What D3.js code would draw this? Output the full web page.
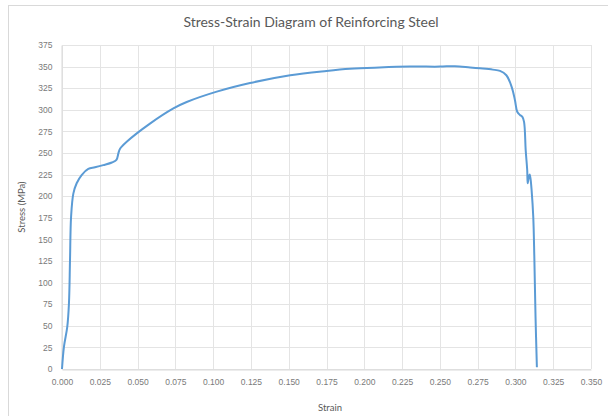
<!DOCTYPE html>
<html>
<head>
<meta charset="utf-8">
<script src="https://cdn.jsdelivr.net/npm/d3@7/dist/d3.min.js"></script>
<style>
  html, body { margin: 0; padding: 0; background: #fff; }
  svg { display: block; font-family: Lato, "Open Sans", "Liberation Sans", sans-serif; }
</style>
</head>
<body>
<svg id="chart" width="608" height="416"></svg>
<script>
// Measured stress-strain curve of a reinforcing bar tension test
const strain = [
  0.0000, 0.0013, 0.0035, 0.0046, 0.0053, 0.0060, 0.0075, 0.0097, 0.0130, 0.0174,
  0.0218, 0.0273, 0.0330, 0.0360, 0.0373, 0.0384, 0.0428, 0.0582, 0.0737, 0.0825,
  0.1024, 0.1244, 0.1510, 0.1750, 0.1905, 0.2100, 0.2300, 0.2500, 0.2600, 0.2700,
  0.2766, 0.2850, 0.2898, 0.2940, 0.2975, 0.2997, 0.3012, 0.3030, 0.3045, 0.3057,
  0.3068, 0.3078, 0.3081, 0.3088, 0.3094, 0.3100, 0.3107, 0.3118, 0.3125, 0.3133,
  0.3142
];
const stress = [
  0.0, 25.8, 49.0, 76.0, 126.0, 176.0, 203.0, 215.0, 224.5, 231.5,
  233.4, 236.0, 239.0, 242.0, 249.6, 255.0, 263.0, 284.0, 301.6, 309.0,
  321.0, 331.0, 340.0, 345.0, 347.5, 349.0, 350.0, 350.0, 350.5, 349.0,
  348.0, 346.5, 345.0, 340.0, 326.6, 311.0, 297.8, 294.0, 292.0, 286.0,
  253.0, 230.0, 215.0, 222.0, 225.0, 220.0, 207.0, 176.0, 130.0, 60.5,
  2.0
];
const xTicks = [0, 0.025, 0.05, 0.075, 0.1, 0.125, 0.15, 0.175, 0.2, 0.225, 0.25, 0.275, 0.3, 0.325, 0.35];
const yTicks = [0, 25, 50, 75, 100, 125, 150, 175, 200, 225, 250, 275, 300, 325, 350, 375];

const titleText = "Stress-Strain Diagram of Reinforcing Steel";
const xTitle = "Strain";
const yTitle = "Stress (MPa)";

const svg = d3.select("#chart");
const plot = { left: 62, right: 591, top: 45, bottom: 369 };

const x = d3.scaleLinear().domain([0, 0.35]).range([plot.left, plot.right]);
const y = d3.scaleLinear().domain([0, 375]).range([plot.bottom, plot.top]);

// chart frame
svg.append("rect")
  .attr("x", 8.5).attr("y", 5.5)
  .attr("width", 620).attr("height", 430)
  .attr("fill", "#fff").attr("stroke", "#d9d9d9").attr("stroke-width", 1);

// gridlines
const grid = svg.append("g").attr("stroke", "#e4e4e4").attr("stroke-width", 1);
grid.selectAll("line.h").data(yTicks).join("line")
  .attr("x1", plot.left).attr("x2", plot.right)
  .attr("y1", d => Math.round(y(d)) + 0.5).attr("y2", d => Math.round(y(d)) + 0.5);
grid.selectAll("line.v").data(xTicks).join("line")
  .attr("y1", plot.top).attr("y2", plot.bottom)
  .attr("x1", d => Math.round(x(d)) + 0.5).attr("x2", d => Math.round(x(d)) + 0.5);

// axes
const xAxis = svg.append("g")
  .attr("transform", `translate(0,${plot.bottom + 0.5})`)
  .call(d3.axisBottom(x).tickValues(xTicks).tickFormat(d3.format(".3f")).tickSize(0).tickPadding(9));
const yAxis = svg.append("g")
  .attr("transform", `translate(${plot.left - 0.5},0)`)
  .call(d3.axisLeft(y).tickValues(yTicks).tickFormat(d3.format("d")).tickSize(0).tickPadding(9));
[xAxis, yAxis].forEach(a => {
  a.select(".domain").attr("stroke", "#d9d9d9");
  a.selectAll("text").attr("fill", "#7a7a7a").style("font-size", "8.5px");
});

// stress-strain curve
const curve = d3.line()
  .x((d, i) => x(strain[i]))
  .y(d => y(d))
  .curve(d3.curveCatmullRom.alpha(0.5));
svg.append("path")
  .datum(stress)
  .attr("fill", "none")
  .attr("stroke", "#5b9bd5")
  .attr("stroke-width", 2)
  .attr("stroke-linejoin", "round")
  .attr("d", curve);

// titles
svg.append("text")
  .attr("x", 311).attr("y", 27)
  .attr("text-anchor", "middle")
  .attr("fill", "#595959")
  .style("font-size", "14px")
  .text(titleText);

svg.append("text")
  .attr("x", 330).attr("y", 411)
  .attr("text-anchor", "middle")
  .attr("fill", "#595959")
  .style("font-size", "9.5px")
  .text(xTitle);

svg.append("text")
  .attr("transform", "translate(25,207) rotate(-90)")
  .attr("text-anchor", "middle")
  .attr("fill", "#595959")
  .style("font-size", "9.5px")
  .text(yTitle);
</script>
</body>
</html>
